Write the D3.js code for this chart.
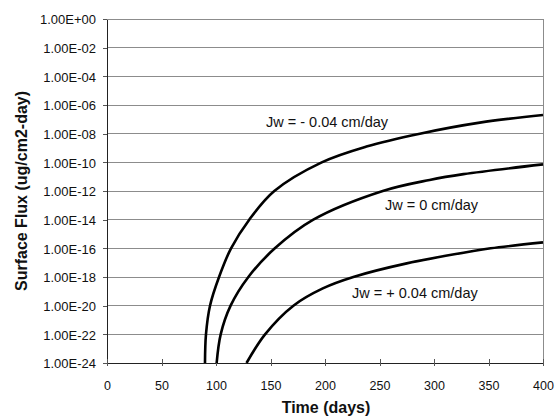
<!DOCTYPE html>
<html>
<head>
<meta charset="utf-8">
<script src="https://cdn.jsdelivr.net/npm/d3@7"></script>
<style>
  html, body { margin: 0; padding: 0; background: #fff; }
  svg { display: block; font-family: "Liberation Sans", Arial, sans-serif; }
</style>
</head>
<body>
<svg id="chart" width="558" height="416"></svg>
<script>
// ---- data ----
const timeTicks = [0, 50, 100, 150, 200, 250, 300, 350, 400];
const fluxTickValues = [1e0, 1e-2, 1e-4, 1e-6, 1e-8, 1e-10, 1e-12, 1e-14, 1e-16, 1e-18, 1e-20, 1e-22, 1e-24];
const fluxTickLabels = ["1.00E+00", "1.00E-02", "1.00E-04", "1.00E-06", "1.00E-08", "1.00E-10", "1.00E-12",
                        "1.00E-14", "1.00E-16", "1.00E-18", "1.00E-20", "1.00E-22", "1.00E-24"];

// Jw = - 0.04 cm/day
const timeNeg = [89.9, 90.8, 94.5, 102.8, 113.8, 130.5, 153.5, 197, 238, 287, 342, 400];
const fluxNeg = [1e-24, 1e-22, 1e-20, 1e-18, 1e-16, 1e-14, 1e-12, 1e-10, 1.26e-9, 1e-8, 5.9e-8, 2.0e-7];
// Jw = 0 cm/day
const timeZero = [100.6, 104.3, 113.4, 129.7, 154, 189.3, 253, 296, 327, 400];
const fluxZero = [1e-24, 1e-22, 1e-20, 1e-18, 1e-16, 1e-14, 1e-12, 5.9e-12, 1.5e-11, 7.2e-11];
// Jw = + 0.04 cm/day
const timePos = [128, 145, 171, 198, 226, 275, 336, 352, 400];
const fluxPos = [1e-24, 1e-22, 1e-20, 1.6e-19, 1e-18, 8.9e-18, 6.5e-17, 1e-16, 2.6e-16];

const seriesNames = ["Jw = - 0.04 cm/day", "Jw = 0 cm/day", "Jw = + 0.04 cm/day"];

// ---- layout ----
const W = 558, H = 416;
const m = { left: 107, top: 19, right: 15, bottom: 53 };
const svg = d3.select("#chart");

const x = d3.scaleLinear().domain([0, 400]).range([m.left, W - m.right]);
const y = d3.scaleLog().domain([1e-24, 1]).range([H - m.bottom, m.top]);

// gridlines
svg.append("g").selectAll("line")
  .data(fluxTickValues.slice(0, -1))
  .join("line")
  .attr("x1", m.left).attr("x2", W - m.right)
  .attr("y1", d => y(d)).attr("y2", d => y(d))
  .attr("stroke", "#8c8c8c").attr("stroke-width", 1).attr("shape-rendering", "crispEdges");

// right border
svg.append("line")
  .attr("x1", W - m.right).attr("x2", W - m.right)
  .attr("y1", m.top).attr("y2", H - m.bottom)
  .attr("stroke", "#8c8c8c").attr("stroke-width", 1).attr("shape-rendering", "crispEdges");

// y axis
const yAxis = svg.append("g")
  .attr("transform", `translate(${m.left},0)`)
  .call(d3.axisLeft(y).tickValues(fluxTickValues)
    .tickFormat(d => fluxTickLabels[fluxTickValues.indexOf(d)])
    .tickSize(4).tickSizeOuter(0).tickPadding(7));
yAxis.select(".domain").attr("stroke", "#222").attr("shape-rendering", "crispEdges");
yAxis.selectAll(".tick line").attr("stroke", "#555").attr("shape-rendering", "crispEdges");
yAxis.selectAll(".tick text").attr("font-size", "13px").attr("fill", "#111")
  .attr("font-family", "'Liberation Sans', Arial, sans-serif").attr("dy", "0.36em");

// x axis
const xAxis = svg.append("g")
  .attr("transform", `translate(0,${H - m.bottom})`)
  .call(d3.axisBottom(x).tickValues(timeTicks).tickSize(3).tickSizeOuter(0));
xAxis.select(".domain").attr("stroke", "#222").attr("shape-rendering", "crispEdges");
xAxis.selectAll(".tick line").attr("y1", -4).attr("stroke", "#555").attr("shape-rendering", "crispEdges");
xAxis.selectAll(".tick text").attr("font-size", "12.5px").attr("fill", "#111")
  .attr("font-family", "'Liberation Sans', Arial, sans-serif")
  .attr("y", 27).attr("dy", 0);

// curves
const line = d3.line()
  .x(d => x(d[0])).y(d => y(d[1]))
  .curve(d3.curveCatmullRom.alpha(0.5));
const series = [
  d3.zip(timeNeg, fluxNeg),
  d3.zip(timeZero, fluxZero),
  d3.zip(timePos, fluxPos)
];
svg.append("g").selectAll("path")
  .data(series)
  .join("path")
  .attr("d", line)
  .attr("fill", "none")
  .attr("stroke", "#000")
  .attr("stroke-width", 2.6)
  .attr("stroke-linejoin", "round");

// series labels
const labelPos = [[266, 127], [385, 210], [352, 297.5]];
svg.append("g").selectAll("text")
  .data(seriesNames)
  .join("text")
  .attr("x", (d, i) => labelPos[i][0])
  .attr("y", (d, i) => labelPos[i][1])
  .attr("font-size", "14.5px")
  .attr("fill", "#111")
  .text(d => d);

// axis titles
svg.append("text")
  .attr("x", (m.left + W - m.right) / 2 + 1)
  .attr("y", 413)
  .attr("text-anchor", "middle")
  .attr("font-size", "16px").attr("font-weight", "bold").attr("fill", "#111")
  .text("Time (days)");

svg.append("text")
  .attr("transform", `translate(27,${(m.top + H - m.bottom) / 2}) rotate(-90)`)
  .attr("text-anchor", "middle")
  .attr("font-size", "16px").attr("font-weight", "bold").attr("fill", "#111")
  .text("Surface Flux (ug/cm2-day)");
</script>
</body>
</html>
